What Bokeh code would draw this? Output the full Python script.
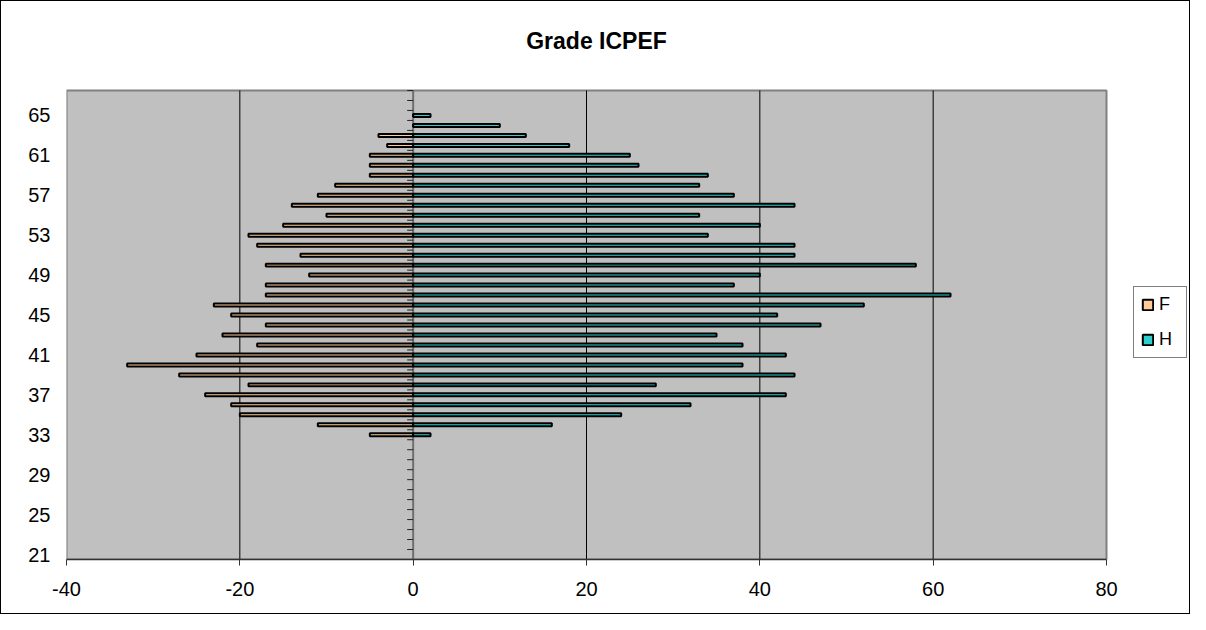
import math
from bokeh.plotting import figure
from bokeh.models import (BoxAnnotation, ColumnDataSource, FixedTicker, Label,
                          Legend, LegendItem, Range1d)
from bokeh.embed import file_html
from bokeh.resources import INLINE

# ---- data -------------------------------------------------------------
title_text = "Grade ICPEF"
ages = list(range(33, 66))              # categories with bars (33 .. 65)
age_min, age_max = 21, 67               # full category axis
age_ticks = list(range(21, 66, 4))      # 21, 25, ..., 65
x_ticks = [-40, -20, 0, 20, 40, 60, 80]
grid_ticks = [-20, 20, 40, 60]
series_names = ["F", "H"]
female = [5, 11, 20, 21, 24, 19, 27, 33, 25, 18, 22, 17, 21, 23, 17, 17, 12,
          17, 13, 18, 19, 15, 10, 14, 11, 9, 5, 5, 5, 3, 4, 0, 0]
male = [2, 16, 24, 32, 43, 28, 44, 38, 43, 38, 35, 47, 42, 52, 62, 37, 40,
        58, 44, 44, 34, 40, 33, 44, 37, 33, 34, 26, 25, 18, 13, 10, 2]

# ---- layout / styles ----------------------------------------------------
FONT = "Liberation Sans"
F_COLOR = "#FFCC99"
H_COLOR = "#33CCCC"
W, H = 1190, 614
LEFT, BOTTOM = 65, 56            # room for tick labels
AREA_W, AREA_H = 1040, 469       # grey plotting area in px
FRAME_W, FRAME_H = W - LEFT, H - BOTTOM

x_lo, x_hi = x_ticks[0], x_ticks[-1]
y_lo, y_hi = age_min - 0.5, age_max + 0.5
px_x = AREA_W / (x_hi - x_lo)
px_y = AREA_H / (y_hi - y_lo)
x_end = x_lo + FRAME_W / px_x
y_end = y_lo + FRAME_H / px_y

src = ColumnDataSource(dict(age=ages,
                            f_left=[-v for v in female],
                            h_right=male))
bounds = ColumnDataSource(dict(y=[a - 0.5 for a in range(age_min, age_max + 2)]))

p = figure(width=W, height=H, output_backend="svg", toolbar_location=None,
           x_range=Range1d(x_lo, x_end), y_range=Range1d(y_lo, y_end),
           min_border_left=LEFT, min_border_right=0,
           min_border_top=0, min_border_bottom=BOTTOM)
p.styles = {"border": "1px solid black"}
p.background_fill_color = "white"
p.border_fill_color = "white"
p.outline_line_color = None
p.xgrid.visible = False
p.ygrid.visible = False

# grey plotting area
p.add_layout(BoxAnnotation(left=x_lo, right=x_hi, bottom=y_lo, top=y_hi,
                           fill_color="#C0C0C0", fill_alpha=1,
                           line_color="#808080", line_width=2, line_alpha=1,
                           level="underlay"))

# vertical grid lines
p.segment(x0=grid_ticks, x1=grid_ticks, y0=y_lo, y1=y_hi,
          line_color="black", line_width=1)

# category axis crossing at x = 0 (line + tick marks at category bounds)
p.segment(x0=[0], x1=[0], y0=[y_lo], y1=[y_hi], line_color="#707070", line_width=2)
p.ray(x=0, y="y", length=6, length_units="screen", angle=math.pi,
      source=bounds, line_color="#222222", line_width=1)

rf = p.hbar(y="age", left="f_left", right=0, height=0.3, source=src,
            fill_color=F_COLOR, line_color="black", line_width=2)
rh = p.hbar(y="age", left=0, right="h_right", height=0.3, source=src,
            fill_color=H_COLOR, line_color="black", line_width=2)

# x axis
xa = p.xaxis[0]
xa.bounds = (x_lo, x_hi)
xa.ticker = FixedTicker(ticks=x_ticks)
xa.major_label_overrides = {t: str(t) for t in x_ticks}
xa.major_tick_out = 6
xa.major_tick_in = 0
xa.minor_tick_out = 0
xa.minor_tick_in = 0
xa.axis_line_color = "#333333"
xa.axis_line_width = 1.5
xa.major_tick_line_color = "#333333"
xa.major_label_standoff = 16
xa.major_label_text_font = FONT
xa.major_label_text_font_size = "20px"
xa.major_label_text_color = "black"

# y axis (labels only, on the left)
ya = p.yaxis[0]
ya.ticker = FixedTicker(ticks=age_ticks)
ya.axis_line_color = None
ya.major_tick_line_color = None
ya.minor_tick_line_color = None
ya.major_tick_out = 0
ya.major_label_standoff = 16
ya.major_label_text_font = FONT
ya.major_label_text_font_size = "20px"
ya.major_label_text_color = "black"

# title, centred on the whole chart
p.add_layout(Label(x=x_lo + (W / 2 - LEFT) / px_x, y=y_end - 39 / px_y,
                   text=title_text, text_font=FONT, text_font_style="bold",
                   text_font_size="23px", text_color="black",
                   text_align="center", text_baseline="alphabetic"))

# legend to the right of the grey area
legend = Legend(items=[LegendItem(label=series_names[0], renderers=[rf]),
                       LegendItem(label=series_names[1], renderers=[rh])],
                location=(FRAME_W - 58, 201), margin=0, padding=7, spacing=14,
                glyph_width=13, glyph_height=13, label_standoff=5,
                label_height=20,
                label_text_font=FONT, label_text_font_size="18px",
                label_text_color="black",
                border_line_color="black", border_line_width=1,
                background_fill_color="white")
p.add_layout(legend, "center")

open("out.html", "w").write(file_html(p, INLINE))
